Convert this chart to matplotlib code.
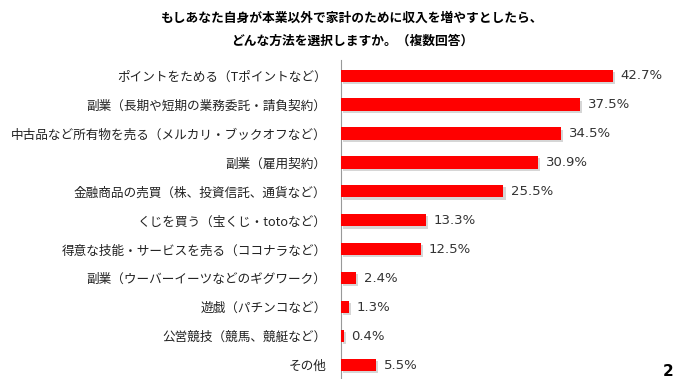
import matplotlib
matplotlib.use("Agg")
import matplotlib.pyplot as plt
import matplotlib.patheffects as pe

plt.rcParams['font.family'] = ['Noto Sans CJK JP', 'DejaVu Sans']

# ------------------------ data ------------------------
categories = [
    "ポイントをためる（Tポイントなど）",
    "副業（長期や短期の業務委託・請負契約）",
    "中古品など所有物を売る（メルカリ・ブックオフなど）",
    "副業（雇用契約）",
    "金融商品の売買（株、投資信託、通貨など）",
    "くじを買う（宝くじ・totoなど）",
    "得意な技能・サービスを売る（ココナラなど）",
    "副業（ウーバーイーツなどのギグワーク）",
    "遊戯（パチンコなど）",
    "公営競技（競馬、競艇など）",
    "その他",
]
values = [42.7, 37.5, 34.5, 30.9, 25.5, 13.3, 12.5, 2.4, 1.3, 0.4, 5.5]
title_lines = [
    "もしあなた自身が本業以外で家計のために収入を増やすとしたら、",
    "どんな方法を選択しますか。（複数回答）",
]

# ------------------------ plot ------------------------
W, H = 680, 379
fig = plt.figure(figsize=(W / 100, H / 100), dpi=100)
ax = fig.add_axes([341 / W, 0, 1 - 341 / W, 1 - 60 / H])

pos = list(range(len(values)))
bars = ax.barh(pos, values, height=0.42, color="#ff0000", zorder=3)
for b in bars:
    b.set_path_effects([pe.SimplePatchShadow(offset=(1.5, -1.5), shadow_rgbFace="#999999", alpha=0.4),
                        pe.Normal()])

for p, v in zip(pos, values):
    ax.text(v + 1.2, p, f"{v}%", va="center", ha="left", fontsize=9.5, color="#333333",
            family=["DejaVu Sans"])

ax.set_ylim(10.48, -0.54)
ax.set_xlim(0, 53.2)
ax.set_yticks(pos)
ax.set_yticklabels(categories, fontsize=9.1, color="#222222")
ax.tick_params(axis="y", length=0, pad=10.5)
ax.set_xticks([])
for s in ["top", "right", "bottom"]:
    ax.spines[s].set_visible(False)
ax.spines["left"].set_color("#999999")
ax.spines["left"].set_linewidth(0.8)

fig.text(352 / W, 1 - 18 / H, title_lines[0], ha="center", va="center", fontsize=9.2, fontweight="bold")
fig.text(352 / W, 1 - 41 / H, title_lines[1], ha="center", va="center", fontsize=9.2, fontweight="bold")
fig.text(668 / W, 1 - 372 / H, "2", ha="center", va="center", fontsize=11, fontweight="bold",
         family=["DejaVu Sans"])

fig.savefig("out.png", dpi=100)
